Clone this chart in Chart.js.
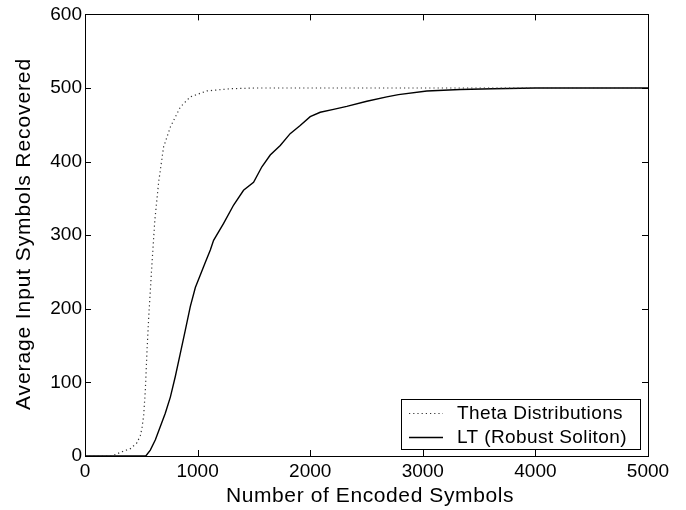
<!DOCTYPE html>
<html>
<head>
<meta charset="utf-8">
<script src="https://cdn.jsdelivr.net/npm/chart.js@4/dist/chart.umd.min.js"></script>
<style>
  html, body { margin: 0; padding: 0; background: #fff; }
  #wrap { width: 686px; height: 510px; }
</style>
</head>
<body>
<div id="wrap"><canvas id="recoveryChart" width="686" height="510"></canvas></div>
<script>
const xTicks = [0, 1000, 2000, 3000, 4000, 5000];
const yTicks = [0, 100, 200, 300, 400, 500, 600];

const thetaX = [0, 250, 314, 403, 462, 492, 506, 521, 536, 551, 566, 595, 620, 654, 698, 758, 846, 935, 1083, 1290, 1500, 5000];
const thetaY = [0, 0.5, 5, 10, 18, 28, 38, 55, 90, 144, 189, 262, 320, 372, 420, 447, 474, 488, 496, 499, 500, 500];

const ltX = [0, 540, 580, 625, 669, 713, 758, 802, 846, 891, 935, 980, 1024, 1068, 1113, 1142, 1231, 1320, 1408, 1497, 1571, 1645, 1734, 1822, 1911, 2000, 2089, 2207, 2325, 2503, 2680, 2784, 3036, 3331, 3624, 4000, 5000];
const ltY = [0, 0, 8, 22, 40, 58, 80, 108, 139, 171, 203, 229, 246, 263, 280, 293, 316, 341, 361, 372, 393, 409, 422, 438, 449, 461, 467, 471, 475, 482, 488, 491, 496, 498, 499, 500, 500];

const legendLabels = ['Theta Distributions', 'LT (Robust Soliton)'];
const xTitle = 'Number of Encoded Symbols';
const yTitle = 'Average Input Symbols Recovered';
const FONT = 'Liberation Sans, Arial, Helvetica, sans-serif';

function toPoints(xs, ys) {
    return xs.map((x, i) => ({ x: x, y: ys[i] }));
}

// frame, inward ticks on all four sides, axis titles and the boxed legend
const framePlugin = {
    id: 'frame',
    afterDatasetsDraw(chart) {
        const ctx = chart.ctx;
        const a = chart.chartArea;
        const xs = chart.scales.x, ys = chart.scales.y;
        const tl = 6;
        ctx.save();
        ctx.strokeStyle = '#000';
        ctx.lineWidth = 1;
        ctx.beginPath();
        xTicks.forEach(v => {
            const px = Math.round(xs.getPixelForValue(v)) + 0.5;
            ctx.moveTo(px, a.bottom); ctx.lineTo(px, a.bottom - tl);
            ctx.moveTo(px, a.top); ctx.lineTo(px, a.top + tl);
        });
        yTicks.forEach(v => {
            const py = Math.round(ys.getPixelForValue(v)) + 0.5;
            ctx.moveTo(a.left, py); ctx.lineTo(a.left + tl, py);
            ctx.moveTo(a.right, py); ctx.lineTo(a.right - tl, py);
        });
        ctx.stroke();
        ctx.strokeRect(Math.round(a.left) + 0.5, Math.round(a.top) + 0.5,
            Math.round(a.right - a.left), Math.round(a.bottom - a.top));

        // axis titles
        ctx.fillStyle = '#000';
        ctx.font = '21px ' + FONT;
        ctx.textAlign = 'center';
        ctx.textBaseline = 'alphabetic';
        ctx.letterSpacing = '0.6px';
        ctx.fillText(xTitle, 370, 502);
        ctx.save();
        ctx.translate(30, 234);
        ctx.rotate(-Math.PI / 2);
        ctx.letterSpacing = '0.9px';
        ctx.fillText(yTitle, 0, 0);
        ctx.restore();

        // legend
        const bx = 401, by = 399, bw = 239, bh = 50;
        ctx.fillStyle = '#fff';
        ctx.fillRect(bx, by, bw, bh);
        ctx.strokeRect(bx + 0.5, by + 0.5, bw, bh);
        ctx.font = '19px ' + FONT;
        ctx.letterSpacing = '0.4px';
        ctx.textAlign = 'left';
        ctx.fillStyle = '#000';
        ctx.textBaseline = 'middle';
        const rows = [413, 437];
        chart.data.datasets.forEach((ds, i) => {
            ctx.save();
            ctx.strokeStyle = ds.borderColor;
            ctx.lineWidth = ds.borderWidth;
            ctx.setLineDash(ds.borderDash || []);
            ctx.beginPath();
            ctx.moveTo(409, rows[i] + 0.5);
            ctx.lineTo(443, rows[i] + 0.5);
            ctx.stroke();
            ctx.restore();
            ctx.fillText(legendLabels[i], 457, rows[i] + 1);
        });
        ctx.restore();
    }
};

new Chart(document.getElementById('recoveryChart').getContext('2d'), {
    type: 'line',
    data: {
        datasets: [{
            label: legendLabels[0],
            data: toPoints(thetaX, thetaY),
            borderColor: '#333',
            borderWidth: 1.2,
            borderDash: [1.2, 3],
            pointRadius: 0,
            tension: 0
        }, {
            label: legendLabels[1],
            data: toPoints(ltX, ltY),
            borderColor: '#000',
            borderWidth: 1.4,
            pointRadius: 0,
            tension: 0
        }]
    },
    options: {
        responsive: false,
        animation: false,
        layout: { padding: { top: 14, right: 38, left: 0, bottom: 0 } },
        plugins: {
            legend: { display: false },
            tooltip: { enabled: false }
        },
        scales: {
            x: {
                type: 'linear',
                min: 0, max: 5000,
                afterBuildTicks: s => { s.ticks = xTicks.map(v => ({ value: v })); },
                afterFit: s => { s.height = 54; },
                grid: { display: false, drawTicks: false },
                border: { display: false },
                ticks: { color: '#000', font: { family: FONT, size: 19 }, padding: 4, maxRotation: 0, callback: v => String(v) }
            },
            y: {
                min: 0, max: 600,
                afterBuildTicks: s => { s.ticks = yTicks.map(v => ({ value: v })); },
                afterFit: s => { s.width = 85; },
                grid: { display: false, drawTicks: false },
                border: { display: false },
                ticks: { color: '#000', font: { family: FONT, size: 19 }, padding: 3, callback: v => String(v) }
            }
        }
    },
    plugins: [framePlugin]
});
</script>
</body>
</html>
